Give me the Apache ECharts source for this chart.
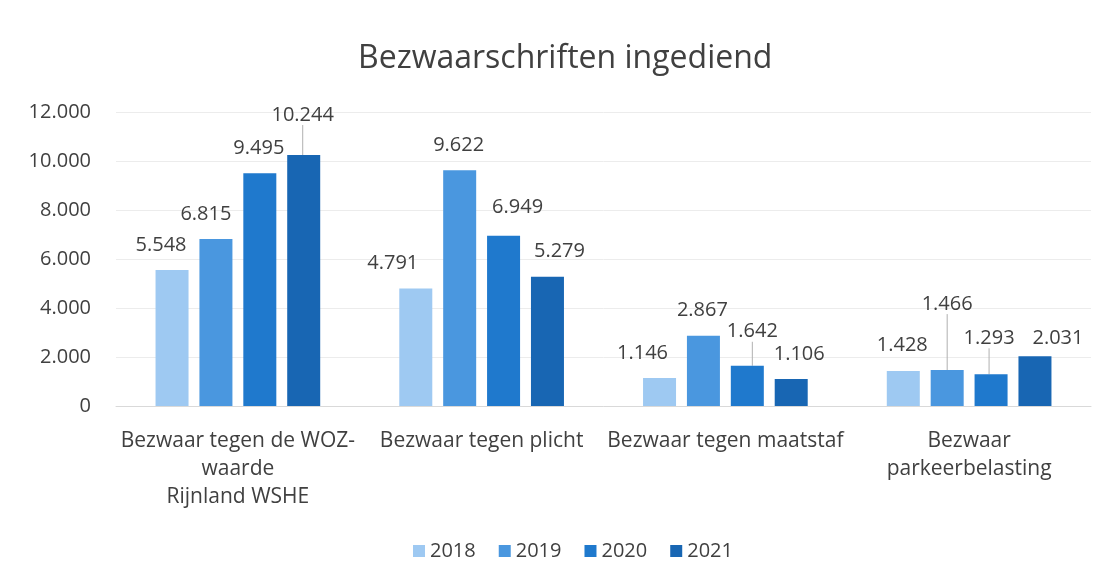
<!DOCTYPE html>
<html>
<head>
<meta charset="utf-8">
<title>Bezwaarschriften ingediend</title>
<script src="https://cdn.jsdelivr.net/npm/echarts@6/dist/echarts.min.js"></script>
<style>
  html, body { margin: 0; padding: 0; background: #fff; }
  #chart { width: 1110px; height: 583px; }
</style>
</head>
<body>
<div id="chart"></div>
<script>
// categorieen en jaren
var categories = [
    'Bezwaar tegen de WOZ-\nwaarde\nRijnland WSHE',
    'Bezwaar tegen plicht',
    'Bezwaar tegen maatstaf',
    'Bezwaar\nparkeerbelasting'
];
var years = ['2018', '2019', '2020', '2021'];

// aantallen per jaar
var values2018 = [5548, 4791, 1146, 1428];
var values2019 = [6815, 9622, 2867, 1466];
var values2020 = [9495, 6949, 1642, 1293];
var values2021 = [10244, 5279, 1106, 2031];

// as
var yMin = 0;
var yMax = 12000;
var yInterval = 2000;

var colors = ['#9ec9f2', '#4a97df', '#1f79cd', '#1866b3'];

// verschuiving van de labels (per serie, per categorie)
var labelShift = [
    [[-11, 0], [-23, 0], [-17, 0], [-1, -1]],
    [[-10, 0], [-1, 0], [-1, 0], [0, -41]],
    [[-1, 0], [14, -3], [5, -9], [-2, -11]],
    [[-1, -15], [12, 0], [8, 0], [23, 7]]
];
// labels met verbindingslijn
var leaders = [
    [false, false, false, false],
    [false, false, false, true],
    [false, false, true, true],
    [true, false, false, false]
];

var fmt = function (v) {
    return String(v).replace(/\B(?=(\d{3})+(?!\d))/g, '.');
};

var textColor = '#404040';
var font = 'Open Sans';

var buildSeries = function (name, values, si) {
    return {
        name: name,
        type: 'bar',
        barWidth: 33,
        barGap: '33%',
        itemStyle: { color: colors[si] },
        label: {
            show: true,
            position: 'top',
            distance: 15,
            fontFamily: font,
            fontSize: 20,
            color: textColor,
            formatter: function (p) { return fmt(p.value); }
        },
        labelLine: { show: false },
        labelLayout: function (params) {
            var s = labelShift[si][params.dataIndex];
            return { dx: s[0], dy: s[1] };
        },
        data: values.map(function (v, i) {
            return {
                value: v,
                labelLine: {
                    show: leaders[si][i],
                    lineStyle: { color: '#b0b0b0', width: 1 }
                }
            };
        })
    };
};

var option = {
    backgroundColor: '#ffffff',
    animation: false,
    color: colors,
    title: {
        text: 'Bezwaarschriften ingediend',
        left: 353,
        top: 38,
        textStyle: {
            fontFamily: font,
            fontSize: 32,
            fontWeight: 'normal',
            color: textColor
        }
    },
    legend: {
        data: years,
        left: 408,
        top: 536,
        itemWidth: 12,
        itemHeight: 12,
        itemGap: 23,
        icon: 'rect',
        textStyle: {
            fontFamily: font,
            fontSize: 20,
            color: textColor
        }
    },
    grid: {
        left: 116,
        right: 19,
        top: 112,
        bottom: 177
    },
    xAxis: {
        type: 'category',
        data: categories,
        axisTick: { show: false },
        axisLine: { lineStyle: { color: '#d9d9d9' } },
        axisLabel: {
            interval: 0,
            margin: 21,
            fontFamily: font,
            fontSize: 21,
            lineHeight: 28,
            color: textColor
        }
    },
    yAxis: {
        type: 'value',
        min: yMin,
        max: yMax,
        interval: yInterval,
        axisLine: { show: false },
        axisTick: { show: false },
        splitLine: { lineStyle: { color: '#ececec' } },
        axisLabel: {
            margin: 25,
            fontFamily: font,
            fontSize: 20,
            color: textColor,
            formatter: function (v) { return fmt(v); }
        }
    },
    series: [
        buildSeries(years[0], values2018, 0),
        buildSeries(years[1], values2019, 1),
        buildSeries(years[2], values2020, 2),
        buildSeries(years[3], values2021, 3)
    ]
};

var chart = echarts.init(document.getElementById('chart'));
chart.setOption(option);
</script>
</body>
</html>
